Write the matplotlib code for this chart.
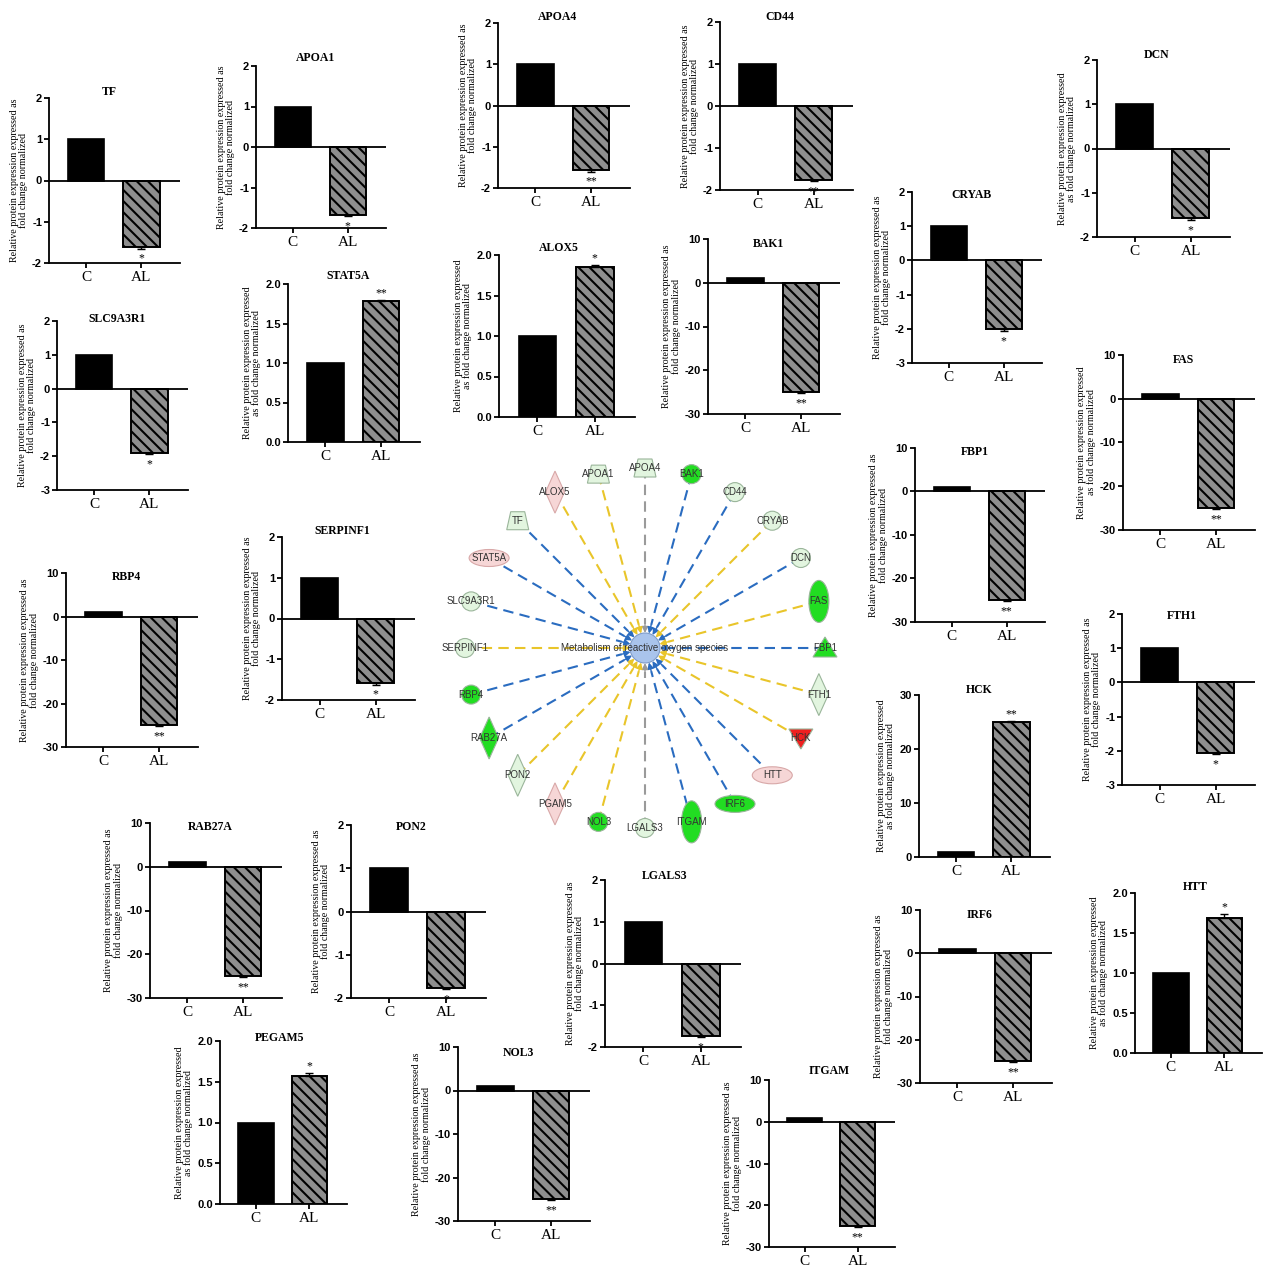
import numpy as np
import matplotlib
matplotlib.use('Agg')
import matplotlib.pyplot as plt
from matplotlib.patches import Ellipse, Polygon, Circle

plt.rcParams['hatch.linewidth'] = 1.5
plt.rcParams['font.family'] = ['Liberation Sans', 'DejaVu Sans']

W, H = 1268, 1266

# ---- bar chart data ----
genes = ['TF', 'APOA1', 'APOA4', 'CD44', 'DCN', 'CRYAB', 'SLC9A3R1', 'STAT5A',
         'ALOX5', 'BAK1', 'FAS', 'FBP1', 'SERPINF1', 'RBP4', 'FTH1', 'HCK',
         'RAB27A', 'PON2', 'LGALS3', 'IRF6', 'HTT', 'PEGAM5', 'NOL3', 'ITGAM']
groups = ['C', 'AL']
control = [1, 1, 1, 1, 1, 1, 1, 1, 1, 1, 1, 1, 1, 1, 1, 1, 1, 1, 1, 1, 1, 1, 1, 1]
al_values = [-1.61, -1.68, -1.57, -1.75, -1.58, -2.02, -1.9, 1.78, 1.85, -25,
             -25, -25, -1.58, -25, -2.06, 25, -25, -1.77, -1.74, -25, 1.69,
             1.57, -25, -25]
al_err = [0.04, 0.03, 0.03, 0.03, 0.04, 0.05, 0.03, 0.02, 0.03, 0.3, 0.2,
          0.2, 0.04, 0.2, 0.04, 0.2, 0.2, 0.03, 0.03, 0.2, 0.05, 0.04, 0.2, 0.2]
stars = ['*', '*', '**', '**', '*', '*', '*', '**', '*', '**', '**', '**', '*',
         '**', '*', '**', '**', '*', '*', '**', '*', '*', '**', '**']
scales = ['pm2', 'pm2', 'pm2', 'pm2', 'pm2', 'm3', 'm3', 'p2', 'p2', 'm30',
          'm30', 'm30', 'pm2', 'm30', 'm3', 'p30', 'm30', 'pm2', 'pm2', 'm30',
          'p2', 'p2', 'm30', 'm30']
label_a = 'Relative protein expression expressed as\nfold change normalized'
label_b = 'Relative protein expression expressed\nas fold change normalized'
ylabel_kind = ['a', 'a', 'a', 'a', 'b', 'a', 'a', 'b', 'b', 'a', 'b', 'a', 'a',
               'a', 'a', 'b', 'a', 'a', 'a', 'a', 'b', 'b', 'a', 'a']

scale_def = {'pm2': (-2, 2, 1), 'm3': (-3, 2, 1), 'p2': (0, 2, 0.5),
             'm30': (-30, 10, 10), 'p30': (0, 30, 10)}

# panel boxes in pixels: spine x, top, bottom, right
boxes = [(49, 98, 263, 180), (256, 66, 228, 386), (498, 23, 188, 630),
         (720, 22, 190, 853), (1097, 60, 237, 1230), (912, 192, 363, 1042),
         (57, 321, 490, 188), (288, 284, 442, 420), (499, 255, 417, 635),
         (708, 239, 414, 840), (1123, 355, 530, 1255), (915, 448, 622, 1045),
         (282, 537, 700, 415), (66, 573, 747, 198), (1122, 614, 785, 1255),
         (919, 695, 857, 1050), (150, 823, 998, 282), (351, 825, 998, 486),
         (605, 880, 1047, 741), (920, 910, 1083, 1052), (1135, 893, 1053, 1262),
         (220, 1041, 1204, 347), (458, 1047, 1221, 590), (769, 1080, 1247, 895)]
title_dy = [-6, -8, -6, -5, -5, 3, -2, -8, -7, 5, 5, 4, -6, 4, 2, -5, 4, 2,
            -4, 5, -6, -3, 6, -9]

fig = plt.figure(figsize=(12.68, 12.66), dpi=100)

for i, g in enumerate(genes):
    x0, top, bot, x1 = boxes[i]
    ax = fig.add_axes([x0 / W, 1 - bot / H, (x1 - x0) / W, (bot - top) / H])
    lo, hi, step = scale_def[scales[i]]
    al = al_values[i]
    err = al_err[i]
    ax.bar(0, control[i], width=0.66, color='black', edgecolor='black', lw=1.2, zorder=2)
    ax.bar(1, al, width=0.66, color='#8e8e8e', edgecolor='black', lw=1.4,
           hatch='\\\\\\', zorder=2)
    if al < 0:
        ax.errorbar(1, al, yerr=[[err], [0]], color='black', capsize=3, lw=1,
                    capthick=1, zorder=3)
        ax.text(1, al - err - 0.025 * (hi - lo), stars[i], ha='center', va='top',
                fontsize=8.5, family='Liberation Serif')
        ax.axhline(0, color='black', lw=1.3, zorder=3)
    else:
        ax.errorbar(1, al, yerr=[[0], [err]], color='black', capsize=3, lw=1,
                    capthick=1, zorder=3)
        ax.text(1, al + err + 0.005 * (hi - lo), stars[i], ha='center', va='bottom',
                fontsize=8.5, family='Liberation Serif')
    ax.set_xlim(-0.67, 1.7)
    ax.set_ylim(lo, hi)
    ticks = np.arange(lo, hi + step / 2, step)
    ax.set_yticks(ticks)
    if step < 1:
        ax.set_yticklabels(['%.1f' % t for t in ticks])
    else:
        ax.set_yticklabels(['%d' % t for t in ticks])
    ax.set_xticks([0, 1])
    ax.set_xticklabels(groups, family='Liberation Serif', fontsize=11)
    for lab in ax.get_yticklabels():
        lab.set_fontweight('bold')
        lab.set_fontsize(8)
    ax.tick_params(axis='y', length=3.5, width=1.3, pad=1.5)
    ax.tick_params(axis='x', length=3.5, width=1.3, pad=2)
    ax.spines['top'].set_visible(False)
    ax.spines['right'].set_visible(False)
    ax.spines['left'].set_linewidth(1.3)
    ax.spines['bottom'].set_linewidth(1.3)
    ax.patch.set_alpha(0)
    ax.set_ylabel(label_a if ylabel_kind[i] == 'a' else label_b,
                  family='Liberation Serif', fontsize=7.2, labelpad=3,
                  linespacing=0.95)
    fig.text((x0 + 60) / W, 1 - (top + title_dy[i]) / H, g, ha='center',
             va='center', fontsize=8.5, fontweight='bold', family='Liberation Serif')

# ---- network data ----
net_nodes = ['APOA4', 'BAK1', 'CD44', 'CRYAB', 'DCN', 'FAS', 'FBP1', 'FTH1',
             'HCK', 'HTT', 'IRF6', 'ITGAM', 'LGALS3', 'NOL3', 'PGAM5', 'PON2',
             'RAB27A', 'RBP4', 'SERPINF1', 'SLC9A3R1', 'STAT5A', 'TF', 'ALOX5',
             'APOA1']
net_shapes = ['trap', 'circle', 'circle', 'circle', 'circle', 'vell', 'tri',
              'diamond', 'itri', 'hell', 'hell', 'vell', 'circle', 'circle',
              'diamond', 'diamond', 'diamond', 'circle', 'circle', 'circle',
              'hell', 'trap', 'diamond', 'trap']
net_fill = ['light', 'green', 'light', 'light', 'light', 'green', 'green',
            'light', 'red', 'pink', 'green', 'green', 'light', 'green', 'pink',
            'light', 'green', 'green', 'light', 'light', 'pink', 'light',
            'pink', 'light']
net_edge = ['grey', 'blue', 'blue', 'yellow', 'blue', 'yellow', 'blue',
            'yellow', 'yellow', 'blue', 'blue', 'blue', 'grey', 'yellow',
            'yellow', 'yellow', 'blue', 'blue', 'yellow', 'blue', 'blue',
            'blue', 'yellow', 'yellow']
center_label = 'Metabolism of reactive oxygen species'

fill_col = {'light': '#e2f5df', 'green': '#22dd22', 'pink': '#f6d6d6', 'red': '#ee2020'}
edge_col = {'blue': '#2a6cc0', 'yellow': '#e9c52a', 'grey': '#9a9a9a'}

nx0, ny0, nx1, ny1 = 430, 445, 860, 855
net = fig.add_axes([nx0 / W, 1 - ny1 / H, (nx1 - nx0) / W, (ny1 - ny0) / H])
net.set_xlim(nx0, nx1)
net.set_ylim(ny1, ny0)
net.axis('off')
cx, cy, R = 645, 648, 180

for i, name in enumerate(net_nodes):
    a = np.deg2rad(90 - 15 * i)
    x, y = cx + R * np.cos(a), cy - R * np.sin(a)
    col = edge_col[net_edge[i]]
    tx, ty = cx + 24 * np.cos(a), cy - 24 * np.sin(a)
    hx, hy = cx + 15 * np.cos(a), cy - 15 * np.sin(a)
    net.plot([x, tx], [y, ty], color=col, lw=1.5, ls=(0, (5, 3)), zorder=1)
    net.annotate('', xy=(hx, hy), xytext=(tx, ty),
                 arrowprops=dict(arrowstyle='-|>', color=col, lw=1,
                                 mutation_scale=9, shrinkA=0, shrinkB=0),
                 zorder=2)
    fc = fill_col[net_fill[i]]
    ec = '#9ab59a' if net_fill[i] != 'pink' else '#d8a8a8'
    s = net_shapes[i]
    if s == 'circle':
        p = Circle((x, y), 9.5, fc=fc, ec=ec, lw=0.8)
    elif s == 'vell':
        p = Ellipse((x, y), 20, 42, fc=fc, ec=ec, lw=0.8)
    elif s == 'hell':
        p = Ellipse((x, y), 40, 17, fc=fc, ec=ec, lw=0.8)
    elif s == 'diamond':
        p = Polygon([(x, y - 21), (x + 9.5, y), (x, y + 21), (x - 9.5, y)], fc=fc, ec=ec, lw=0.8)
    elif s == 'tri':
        p = Polygon([(x, y - 11), (x + 12, y + 9), (x - 12, y + 9)], fc=fc, ec=ec, lw=0.8)
    elif s == 'itri':
        p = Polygon([(x - 12, y - 9), (x + 12, y - 9), (x, y + 11)], fc=fc, ec=ec, lw=0.8)
    else:
        p = Polygon([(x - 7, y - 9), (x + 7, y - 9), (x + 11, y + 9), (x - 11, y + 9)],
                    fc=fc, ec=ec, lw=0.8)
    p.set_zorder(3)
    net.add_patch(p)
    net.text(x, y, name, ha='center', va='center', fontsize=7, color='#333333', zorder=4)

net.add_patch(Circle((cx, cy), 15, fc='#a9c4ec', ec='#7f9cc8', lw=0.8, zorder=3))
net.text(cx, cy, center_label, ha='center', va='center', fontsize=7,
         color='#333333', zorder=4)

fig.savefig('out.png', dpi=100)
